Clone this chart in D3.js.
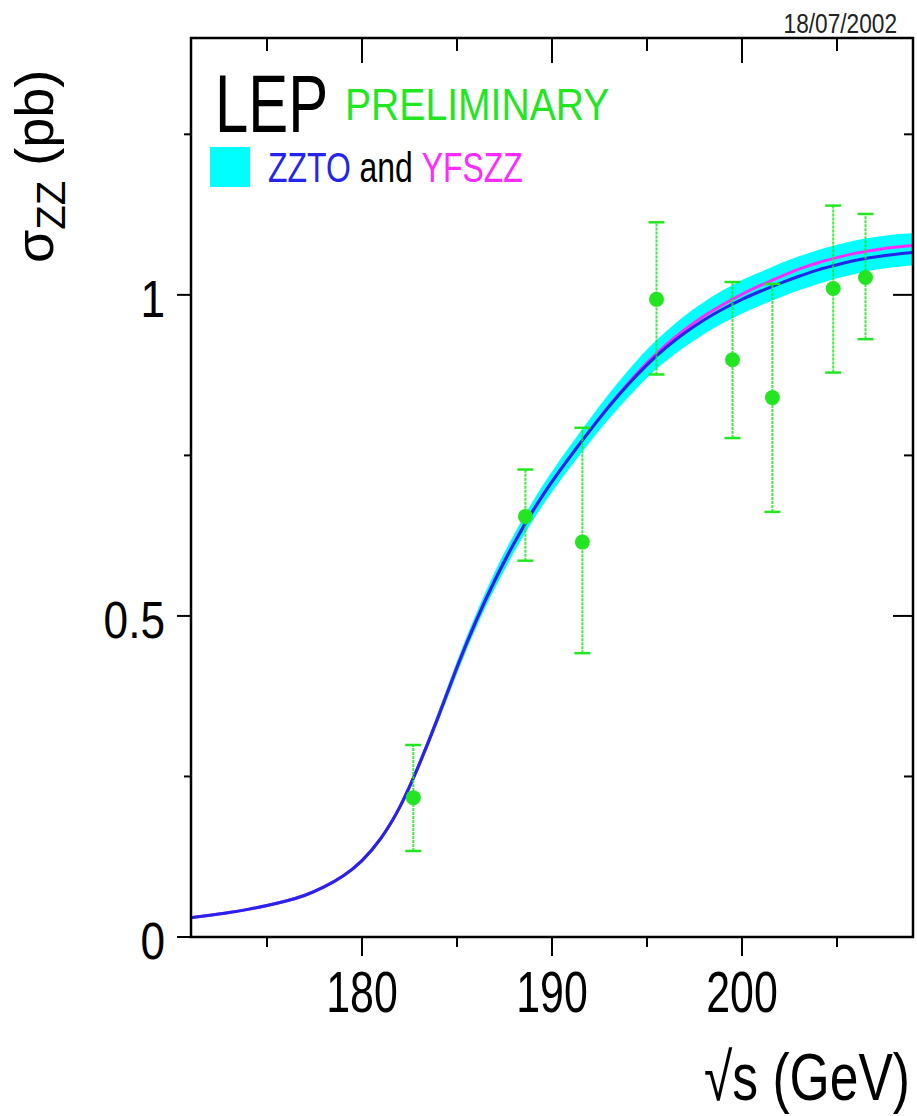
<!DOCTYPE html>
<html>
<head>
<meta charset="utf-8">
<script src="https://cdn.jsdelivr.net/npm/d3@7"></script>
<style>
  body { margin: 0; background: #fff; }
  svg { display: block; font-family: "Liberation Sans", Arial, sans-serif; }
</style>
</head>
<body>
<svg id="chart"></svg>
<script>
/* ZZ cross-section vs sqrt(s), LEP preliminary (18/07/2002) */

// theory curves, sampled every 1 GeV
const energies = [171,172,173,174,175,176,177,178,179,180,181,182,183,184,185,186,187,188,189,190,
                  191,192,193,194,195,196,197,198,199,200,201,202,203,204,205,206,207,208,209];
const zzto  = [0.030,0.034,0.038,0.043,0.049,0.056,0.065,0.078,0.095,0.119,0.154,0.203,0.268,0.342,0.420,0.492,0.556,0.613,0.664,0.709,
               0.750,0.789,0.826,0.860,0.891,0.918,0.941,0.961,0.978,0.993,1.006,1.018,1.029,1.039,1.047,1.054,1.059,1.063,1.066];
const yfszz = [0.030,0.034,0.038,0.043,0.049,0.056,0.065,0.078,0.095,0.119,0.154,0.203,0.268,0.342,0.420,0.492,0.556,0.613,0.664,0.709,
               0.750,0.789,0.827,0.862,0.894,0.922,0.946,0.967,0.985,1.001,1.015,1.028,1.040,1.050,1.058,1.065,1.070,1.074,1.077];
const bandLo = [0.029,0.033,0.037,0.042,0.048,0.055,0.063,0.076,0.093,0.116,0.150,0.198,0.262,0.334,0.410,0.481,0.543,0.599,0.649,0.693,
                0.733,0.771,0.807,0.840,0.871,0.897,0.919,0.939,0.956,0.971,0.984,0.996,1.007,1.017,1.026,1.033,1.039,1.043,1.046];
const bandHi = [0.031,0.035,0.039,0.044,0.050,0.057,0.067,0.080,0.097,0.122,0.158,0.208,0.274,0.350,0.430,0.503,0.569,0.627,0.679,0.725,
                0.767,0.807,0.846,0.882,0.915,0.943,0.968,0.989,1.007,1.023,1.036,1.049,1.060,1.070,1.078,1.085,1.090,1.094,1.096];

// LEP combined measurements
const dataE   = [182.7, 188.6, 191.6, 195.5, 199.5, 201.6, 204.8, 206.5];
const dataSig = [0.217, 0.655, 0.615, 0.993, 0.899, 0.840, 1.010, 1.027];
const dataHi  = [0.299, 0.728, 0.793, 1.113, 1.020, 1.017, 1.139, 1.126];
const dataLo  = [0.134, 0.586, 0.442, 0.876, 0.777, 0.662, 0.879, 0.931];

const xMajor = [180, 190, 200];
const xMinor = [175, 185, 195, 205];
const yMajor = [0, 0.5, 1];
const yMinor = [0.25, 0.75, 1.25];
const yTickText = ["0", "0.5", "1"];

const W = 917, H = 1116;
const svg = d3.select("#chart").attr("width", W).attr("height", H);

const x = d3.scaleLinear().domain([171, 209]).range([191, 913]);
const y = d3.scaleLinear().domain([0, 1.4]).range([937, 38]);

const GREEN = "#22e622", BLUE = "#2424ee", MAGENTA = "#ff2aff", CYAN = "#00ffff";

// condensed text helper (the original uses a narrow Helvetica)
function txt(g, px, py, str, size, sx, anchor, fill) {
  return g.append("text")
    .attr("transform", `translate(${px},${py}) scale(${sx},1)`)
    .attr("text-anchor", anchor || "start")
    .attr("font-size", size)
    .attr("fill", fill || "#000")
    .text(str);
}

svg.append("defs").append("clipPath").attr("id", "plotClip")
  .append("rect").attr("x", 191).attr("y", 38).attr("width", 722).attr("height", 899);

const plot = svg.append("g").attr("clip-path", "url(#plotClip)");

/* band + curves */
const pts = energies.map((e, i) => ({ e, lo: bandLo[i], hi: bandHi[i], a: zzto[i], b: yfszz[i] }));

plot.append("path")
  .datum(pts)
  .attr("fill", CYAN)
  .attr("d", d3.area().curve(d3.curveNatural)
    .x(d => x(d.e)).y0(d => y(d.lo)).y1(d => y(d.hi)));

plot.append("path")
  .datum(pts)
  .attr("fill", "none").attr("stroke", MAGENTA).attr("stroke-width", 3)
  .attr("d", d3.line().curve(d3.curveNatural).x(d => x(d.e)).y(d => y(d.b)));

plot.append("path")
  .datum(pts)
  .attr("fill", "none").attr("stroke", BLUE).attr("stroke-width", 3)
  .attr("d", d3.line().curve(d3.curveNatural).x(d => x(d.e)).y(d => y(d.a)));

/* data points with error bars */
const meas = dataE.map((e, i) => ({ e, s: dataSig[i], hi: dataHi[i], lo: dataLo[i] }));
const mg = plot.selectAll("g.meas").data(meas).enter().append("g").attr("class", "meas");

mg.append("line")
  .attr("x1", d => x(d.e)).attr("x2", d => x(d.e))
  .attr("y1", d => y(d.lo)).attr("y2", d => y(d.hi))
  .attr("stroke", GREEN).attr("stroke-width", 2).attr("stroke-dasharray", "3,1").attr("opacity", 0.85);
["lo", "hi"].forEach(k => {
  mg.append("line")
    .attr("x1", d => x(d.e) - 8).attr("x2", d => x(d.e) + 8)
    .attr("y1", d => y(d[k])).attr("y2", d => y(d[k]))
    .attr("stroke", GREEN).attr("stroke-width", 2.5);
});
mg.append("circle")
  .attr("cx", d => x(d.e)).attr("cy", d => y(d.s))
  .attr("r", 7.5).attr("fill", GREEN);

/* frame + ticks */
const axes = svg.append("g").attr("stroke", "#000");

function ticks(vals, len, fn) {
  vals.forEach(v => { const c = fn(v, len); axes.append("line").attr("x1", c[0]).attr("y1", c[1]).attr("x2", c[2]).attr("y2", c[3]).attr("stroke-width", 2); });
}
// bottom: outward, top: inward
ticks(xMajor, 19, (v, l) => [x(v), 937, x(v), 937 + l]);
ticks(xMinor, 10, (v, l) => [x(v), 937, x(v), 937 + l]);
ticks(xMajor, 25, (v, l) => [x(v), 38, x(v), 38 + l]);
ticks(xMinor, 13, (v, l) => [x(v), 38, x(v), 38 + l]);
// left: outward, right: inward
ticks(yMajor, 14, (v, l) => [191, y(v), 191 - l, y(v)]);
ticks(yMinor, 7,  (v, l) => [191, y(v), 191 - l, y(v)]);
ticks(yMajor, 20, (v, l) => [913, y(v), 913 - l, y(v)]);
ticks(yMinor, 9,  (v, l) => [913, y(v), 913 - l, y(v)]);

axes.append("rect")
  .attr("x", 191).attr("y", 38).attr("width", 722).attr("height", 899)
  .attr("fill", "none").attr("stroke-width", 2.5);

/* tick labels */
const lab = svg.append("g");
xMajor.forEach(v => txt(lab, x(v), 1012, String(v), 58, 0.74, "middle"));
yMajor.forEach((v, i) => txt(lab, 165, y(v) + 22, yTickText[i], 52, 0.85, "end"));

/* axis titles */
txt(lab, 910, 1100, "\u221As (GeV)", 67, 0.77, "end");

const yt = lab.append("text")
  .attr("transform", "translate(53,263) rotate(-90)")
  .attr("font-size", 54);
yt.append("tspan").text("\u03c3");
yt.append("tspan").attr("font-size", 40).attr("dy", 12).text("ZZ");
yt.append("tspan").attr("dy", -12).text(" (pb)");

/* date stamp */
txt(lab, 897, 33, "18/07/2002", 28, 0.81, "end", "#222");

/* legend */
txt(lab, 215, 132, "LEP", 82, 0.73, "start");
txt(lab, 345, 120, "PRELIMINARY", 44.7, 0.875, "start", GREEN);

lab.append("rect").attr("x", 210).attr("y", 147).attr("width", 40).attr("height", 40).attr("fill", CYAN);
const leg = txt(lab, 268, 182, "", 42, 0.76, "start");
leg.append("tspan").attr("fill", BLUE).text("ZZTO");
leg.append("tspan").attr("fill", "#000").text(" and ");
leg.append("tspan").attr("fill", MAGENTA).text("YFSZZ");
</script>
</body>
</html>
